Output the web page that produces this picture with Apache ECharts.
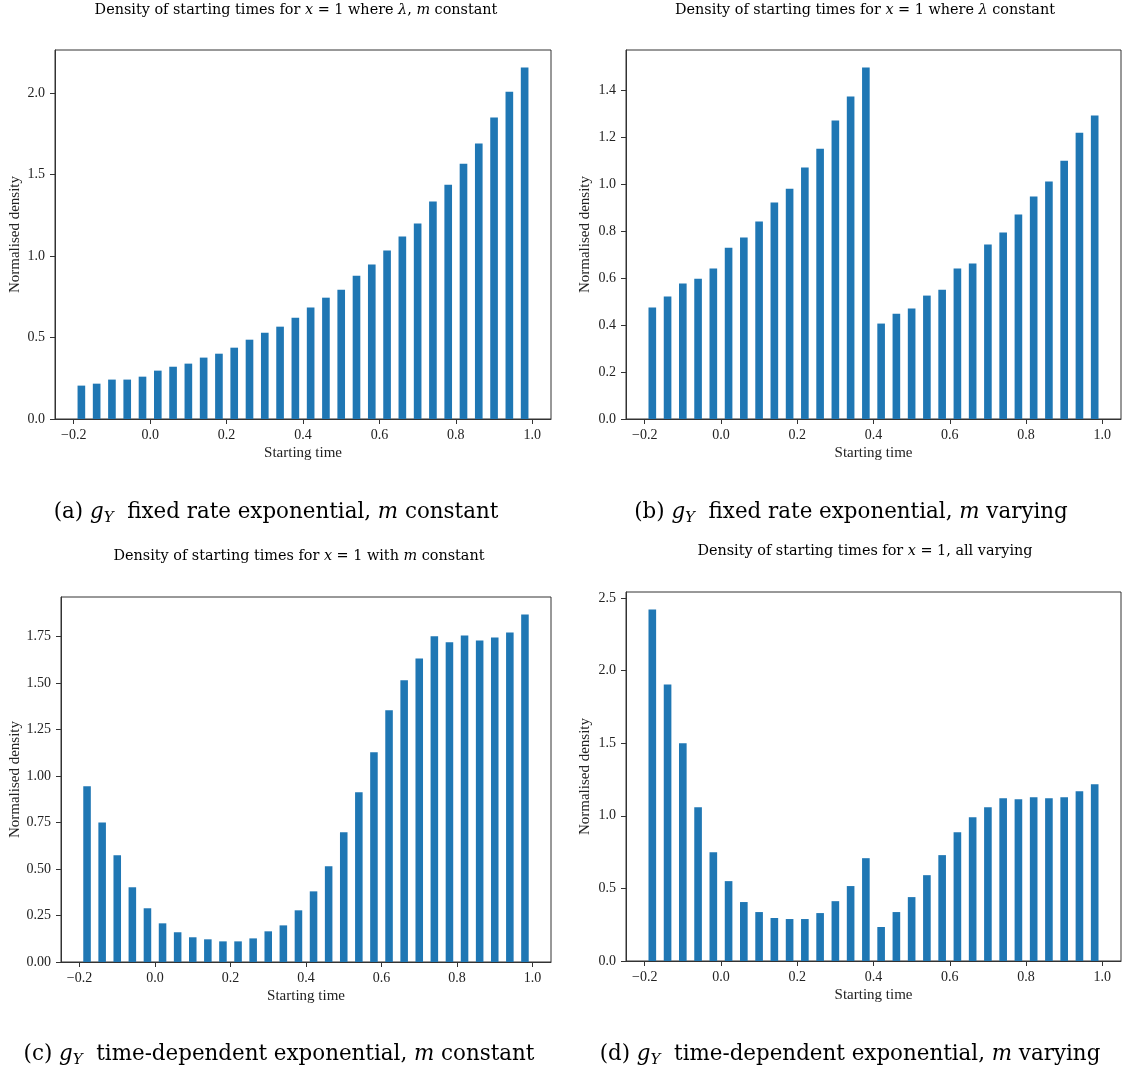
<!DOCTYPE html>
<html>
<head>
<meta charset="utf-8">
<title>Density of starting times</title>
<script src="https://cdn.jsdelivr.net/npm/echarts@6/dist/echarts.min.js"></script>
<style>
  html, body { margin: 0; padding: 0; background: #ffffff; }
  #chart { width: 1123px; height: 1072px; }
</style>
</head>
<body>
<div id="chart"></div>
<script>
// Histogram bin centres (bins of width 0.04 from -0.2 to 1.0)
const binCentres = [-0.18, -0.14, -0.10, -0.06, -0.02, 0.02, 0.06, 0.10, 0.14, 0.18,
                    0.22, 0.26, 0.30, 0.34, 0.38, 0.42, 0.46, 0.50, 0.54, 0.58,
                    0.62, 0.66, 0.70, 0.74, 0.78, 0.82, 0.86, 0.90, 0.94, 0.98];

const xTickValues = [-0.2, 0.0, 0.2, 0.4, 0.6, 0.8, 1.0];

// (a) fixed rate exponential, m constant
const densityA = [0.205, 0.217, 0.242, 0.242, 0.260, 0.297, 0.321, 0.340, 0.377, 0.401,
                  0.438, 0.487, 0.530, 0.567, 0.622, 0.684, 0.745, 0.794, 0.880, 0.948,
                  1.034, 1.120, 1.200, 1.335, 1.439, 1.568, 1.691, 1.851, 2.010, 2.158];
// (b) fixed rate exponential, m varying
const densityB = [0.474, 0.521, 0.576, 0.597, 0.640, 0.729, 0.772, 0.840, 0.921, 0.980,
                  1.070, 1.150, 1.270, 1.372, 1.495, 0.406, 0.448, 0.470, 0.525, 0.550,
                  0.640, 0.661, 0.742, 0.793, 0.870, 0.946, 1.010, 1.099, 1.218, 1.291];
// (c) time-dependent exponential, m constant
const densityC = [0.945, 0.751, 0.574, 0.402, 0.289, 0.208, 0.160, 0.133, 0.122, 0.111,
                  0.111, 0.127, 0.165, 0.197, 0.278, 0.380, 0.515, 0.698, 0.913, 1.128,
                  1.354, 1.515, 1.633, 1.752, 1.720, 1.757, 1.730, 1.746, 1.773, 1.870];
// (d) time-dependent exponential, m varying
const densityD = [2.420, 1.904, 1.499, 1.059, 0.749, 0.550, 0.406, 0.337, 0.296, 0.289,
                  0.289, 0.330, 0.412, 0.516, 0.708, 0.234, 0.337, 0.440, 0.591, 0.729,
                  0.887, 0.990, 1.059, 1.121, 1.114, 1.127, 1.121, 1.127, 1.169, 1.217];

const yTicksA = [0, 0.5, 1.0, 1.5, 2.0];
const yTicksB = [0, 0.2, 0.4, 0.6, 0.8, 1.0, 1.2, 1.4];
const yTicksC = [0, 0.25, 0.5, 0.75, 1.0, 1.25, 1.5, 1.75];
const yTicksD = [0, 0.5, 1.0, 1.5, 2.0, 2.5];

const plotTitles = [
  '{r|Density of starting times for }{i|x}{r| = 1 where }{i|λ}{r|, }{i|m}{r| constant}',
  '{r|Density of starting times for }{i|x}{r| = 1 where }{i|λ}{r| constant}',
  '{r|Density of starting times for }{i|x}{r| = 1 with }{i|m}{r| constant}',
  '{r|Density of starting times for }{i|x}{r| = 1, all varying}'
];
const subCaptions = [
  '{r|(a) }{i|g}{s|Y}{r|  fixed rate exponential, }{i|m}{r| constant}',
  '{r|(b) }{i|g}{s|Y}{r|  fixed rate exponential, }{i|m}{r| varying}',
  '{r|(c) }{i|g}{s|Y}{r|  time-dependent exponential, }{i|m}{r| constant}',
  '{r|(d) }{i|g}{s|Y}{r|  time-dependent exponential, }{i|m}{r| varying}'
];

const SERIF = '"Liberation Serif", "DejaVu Serif", serif';
const WIDE_SERIF = '"DejaVu Serif", "Liberation Serif", serif';
const BAR_BLUE = '#1f77b4';
const INK = '#222222';
const SPINE = '#333333';

// Axes x-limits: outer bar edges plus 5% margin
const xRange = [-0.249, 1.049];

// Panel layout: plot boxes, title / caption anchors, y-label gaps, tick decimals
const panels = [
  { data: densityA, ticks: yTicksA, dec: 1, box: { left: 55, top: 50, width: 496, height: 369 },
    title: [296, 10], caption: [276, 512], nameGap: 40 },
  { data: densityB, ticks: yTicksB, dec: 1, box: { left: 626, top: 50, width: 495, height: 369 },
    title: [865, 10], caption: [851, 512], nameGap: 41 },
  { data: densityC, ticks: yTicksC, dec: 2, box: { left: 61, top: 597, width: 490, height: 365 },
    title: [299, 556], caption: [279, 1054], nameGap: 46 },
  { data: densityD, ticks: yTicksD, dec: 1, box: { left: 626, top: 592, width: 495, height: 369 },
    title: [865, 551], caption: [850, 1054], nameGap: 41 }
];

function fmt(v, dec) {
  const s = Math.abs(v).toFixed(dec);
  return (v < -1e-9 ? '\u2212' : '') + s;
}

const titleRich = {
  r: { fontFamily: WIDE_SERIF, fontSize: 14.4, color: INK },
  i: { fontFamily: WIDE_SERIF, fontSize: 14.4, fontStyle: 'italic', color: INK }
};
const captionRich = {
  r: { fontFamily: WIDE_SERIF, fontSize: 21.4, color: INK, lineHeight: 27, verticalAlign: 'middle' },
  i: { fontFamily: WIDE_SERIF, fontSize: 21.4, fontStyle: 'italic', color: INK, lineHeight: 27, verticalAlign: 'middle' },
  s: { fontFamily: WIDE_SERIF, fontSize: 15, fontStyle: 'italic', color: INK, lineHeight: 16, verticalAlign: 'bottom' }
};

const grids = [], xAxes = [], yAxes = [], series = [], graphics = [];

panels.forEach((p, idx) => {
  grids.push(Object.assign({ show: true, borderColor: SPINE, borderWidth: 1, backgroundColor: 'transparent' }, p.box));

  xAxes.push({
    type: 'value', gridIndex: idx, min: xRange[0], max: xRange[1],
    name: 'Starting time', nameLocation: 'middle', nameGap: 34,
    nameTextStyle: { fontFamily: SERIF, fontSize: 15, color: INK, verticalAlign: 'middle' },
    axisLine: { show: true, onZero: false, lineStyle: { color: SPINE, width: 1 } },
    axisTick: { show: true, length: 5, customValues: xTickValues, lineStyle: { color: SPINE } },
    axisLabel: { customValues: xTickValues, margin: 9, fontFamily: SERIF, fontSize: 14, color: INK,
                 formatter: v => fmt(v, 1) },
    splitLine: { show: false }
  });

  const yMax = Math.max(...p.data) * 1.05;
  yAxes.push({
    type: 'value', gridIndex: idx, min: 0, max: yMax,
    name: 'Normalised density', nameLocation: 'middle', nameGap: p.nameGap, nameRotate: 90,
    nameTextStyle: { fontFamily: SERIF, fontSize: 15, color: INK, verticalAlign: 'middle' },
    axisLine: { show: true, onZero: false, lineStyle: { color: SPINE, width: 1 } },
    axisTick: { show: true, length: 5, customValues: p.ticks, lineStyle: { color: SPINE } },
    axisLabel: { customValues: p.ticks, margin: 10, fontFamily: SERIF, fontSize: 14, color: INK,
                 formatter: v => fmt(v, p.dec) },
    splitLine: { show: false }
  });

  series.push({
    type: 'bar', xAxisIndex: idx, yAxisIndex: idx,
    data: binCentres.map((c, k) => [c, p.data[k]]),
    barWidth: '50%',
    itemStyle: { color: BAR_BLUE },
    silent: true
  });

  graphics.push({
    type: 'text', x: p.title[0], y: p.title[1],
    style: { text: plotTitles[idx], rich: titleRich, align: 'center', verticalAlign: 'middle' }
  });
  graphics.push({
    type: 'text', x: p.caption[0], y: p.caption[1],
    style: { text: subCaptions[idx], rich: captionRich, align: 'center', verticalAlign: 'middle' }
  });
});

const chart = echarts.init(document.getElementById('chart'), null, { renderer: 'canvas' });
chart.setOption({
  animation: false,
  backgroundColor: '#ffffff',
  grid: grids,
  xAxis: xAxes,
  yAxis: yAxes,
  series: series,
  graphic: graphics
});
</script>
</body>
</html>
